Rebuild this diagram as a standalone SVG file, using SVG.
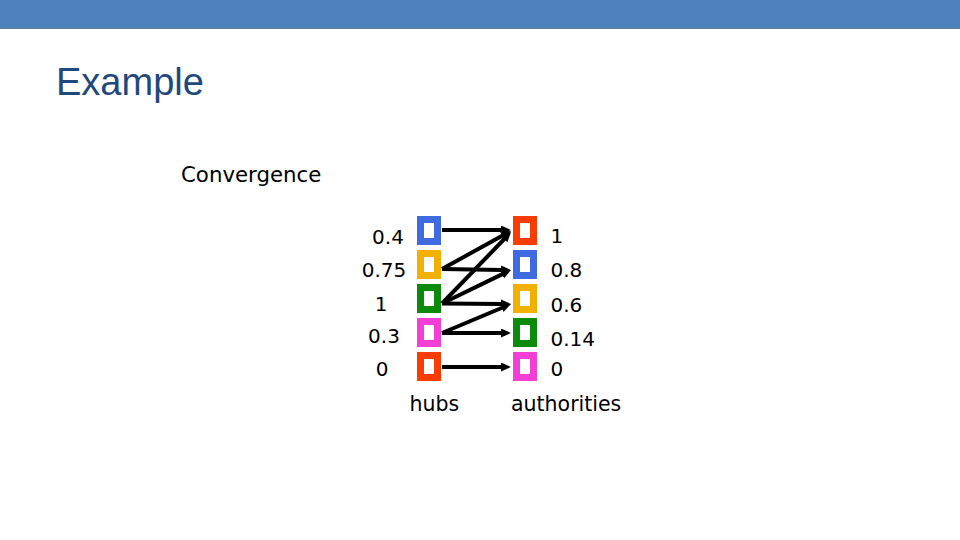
<svg xmlns="http://www.w3.org/2000/svg" width="960" height="540" viewBox="0 0 960 540">
  <defs>
    <style>
      .t { font-family: "DejaVu Sans", Verdana, sans-serif; font-size: 20px; fill: #000; }
      .title { font-family: "Liberation Sans", Arial, sans-serif; font-size: 38px; fill: #1f497d; }
      .box { fill: #fff; stroke-width: 7; }
      .blue { stroke: #3f6ae0; }
      .yellow { stroke: #f2b000; }
      .green { stroke: #0b8a0b; }
      .pink { stroke: #f43fd6; }
      .red { stroke: #fb3c00; }
      .edge { stroke: #000; stroke-width: 4; fill: none; marker-end: url(#arrow); }
    </style>
    <marker id="arrow" markerUnits="userSpaceOnUse" markerWidth="12" markerHeight="10" refX="1" refY="4.5" orient="auto">
      <path d="M0,0 L10,4.5 L0,9 z" fill="#000"/>
    </marker>
  </defs>
  <rect x="0" y="0" width="960" height="28" fill="#4f81bd"/>
  <rect x="0" y="28" width="960" height="1" fill="#5f7f9a"/>
  <text class="title" x="56" y="95">Example</text>
  <text class="t" x="181" y="182" style="font-size:21.3px">Convergence</text>

  <g id="connectors">
    <line class="edge" x1="442" y1="230" x2="502" y2="230"/>
    <line class="edge" x1="442" y1="269" x2="503.1" y2="235.3"/>
    <line class="edge" x1="442" y1="303.5" x2="504.8" y2="238.5"/>
    <line class="edge" x1="442" y1="269" x2="502" y2="269.9"/>
    <line class="edge" x1="442" y1="303.5" x2="502.9" y2="273.9"/>
    <line class="edge" x1="442" y1="303.5" x2="502" y2="304"/>
    <line class="edge" x1="442" y1="333" x2="502.7" y2="307.5"/>
    <line class="edge" x1="442" y1="333" x2="502" y2="333"/>
    <line class="edge" x1="442" y1="367" x2="502" y2="367"/>
  </g>

  <g id="hub1"><rect class="box blue" x="420.5" y="219.5" width="17" height="22"/><text class="t" x="388" y="244" text-anchor="middle">0.4</text></g>
  <g id="hub2"><rect class="box yellow" x="420.5" y="253.5" width="17" height="22"/><text class="t" x="384" y="277" text-anchor="middle">0.75</text></g>
  <g id="hub3"><rect class="box green" x="420.5" y="287.5" width="17" height="22"/><text class="t" x="381" y="311" text-anchor="middle">1</text></g>
  <g id="hub4"><rect class="box pink" x="420.5" y="321.5" width="17" height="22"/><text class="t" x="384" y="343" text-anchor="middle">0.3</text></g>
  <g id="hub5"><rect class="box red" x="420.5" y="355.5" width="17" height="22"/><text class="t" x="382" y="376" text-anchor="middle">0</text></g>

  <g id="auth1"><rect class="box red" x="516.5" y="219.5" width="17" height="22"/><text class="t" x="550.5" y="243">1</text></g>
  <g id="auth2"><rect class="box blue" x="516.5" y="253.5" width="17" height="22"/><text class="t" x="550.5" y="277">0.8</text></g>
  <g id="auth3"><rect class="box yellow" x="516.5" y="287.5" width="17" height="22"/><text class="t" x="550.5" y="311.5">0.6</text></g>
  <g id="auth4"><rect class="box green" x="516.5" y="321.5" width="17" height="22"/><text class="t" x="550.5" y="346">0.14</text></g>
  <g id="auth5"><rect class="box pink" x="516.5" y="355.5" width="17" height="22"/><text class="t" x="550.5" y="376">0</text></g>

  <text class="t" x="409.5" y="411" style="font-size:20.5px">hubs</text>
  <text class="t" x="511" y="411" style="font-size:20.5px">authorities</text>
</svg>
